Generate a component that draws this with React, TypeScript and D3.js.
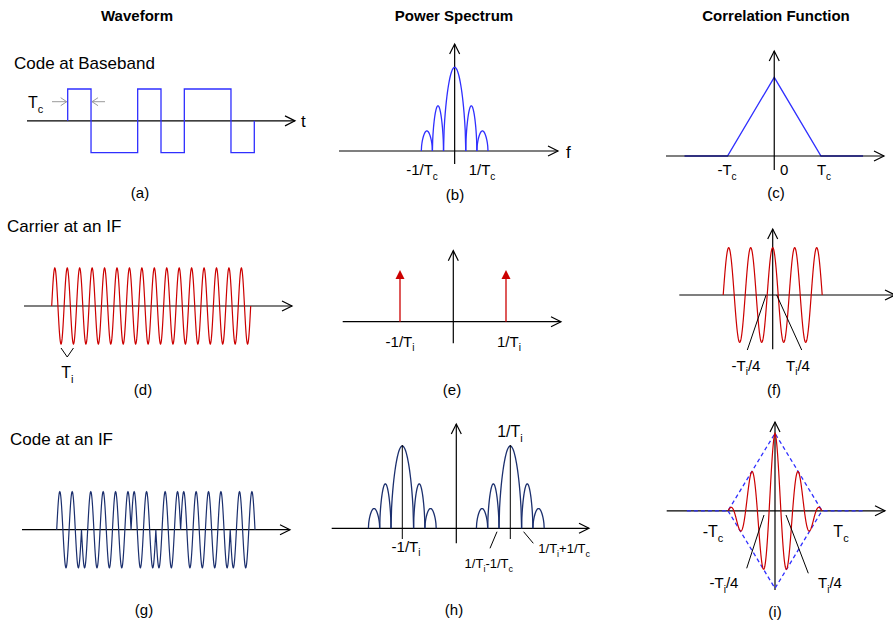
import React from "react";
import * as d3 from "d3";

const W = 893;
const H = 624;
const FONT = "'Liberation Sans', Arial, Helvetica, sans-serif";

// ---- content -------------------------------------------------------------
const columnTitles = ["Waveform", "Power Spectrum", "Correlation Function"];
const rowTitles = ["Code at Baseband", "Carrier at an IF", "Code at an IF"];
const panelTags = ["(a)", "(b)", "(c)", "(d)", "(e)", "(f)", "(g)", "(h)", "(i)"];

// spreading code chips (±1)
const codeChips = [1, -1, -1, 1, -1, 1, 1, -1];
// sinc² lobes: edges in units of 1/Tc and relative lobe heights
const lobeEdges = [-3, -2, -1, 1, 2, 3];
const lobeHeights = [0.24, 0.54, 1, 0.54, 0.24];
// code autocorrelation (lag in Tc units)
const corrTau = [-1.92, -1, 0, 1, 1.9];
const corrValue = [0, 0, 1, 0, 0];
// carrier
const carrierCycles = 16;
const cyclesPerChip = 2;
const lineFreqs = [-1, 1];
const lineHeights = [1, 1];
const carrierLagSpan = 2.25; // carrier correlation drawn over ±2.25 Ti
const ifOverChip = 4.78; // 1/Ti expressed in units of 1/Tc
const chipOverCarrier = 2; // Tc / Ti
// triangular envelope of the IF code correlation (lag in Ti units)
const envTau = [-3.75, -2, 0, 2, 3.75];
const envUpper = [0, 0, 1, 0, 0];
const envLowerTau = [-2, 0, 2];
const envLower = [0, -1, 0];

const BLUE = "#2f2fff";
const RED = "#cc0000";
const NAVY = "#1b2f6e";
const GRAY = "#9a9a9a";
const INK = "#000";

type Pt = [number, number];
const line = d3.line<Pt>();

function HArrow({ x1, x2, y }: { x1: number; x2: number; y: number }) {
  return (
    <g stroke={INK} strokeWidth={1.2} fill="none">
      <line x1={x1} y1={y} x2={x2} y2={y} />
      <polyline points={`${x2 - 10},${y - 5} ${x2},${y} ${x2 - 10},${y + 5}`} />
    </g>
  );
}

function VArrow({ x, y1, y2 }: { x: number; y1: number; y2: number }) {
  return (
    <g stroke={INK} strokeWidth={1.2} fill="none">
      <line x1={x} y1={y1} x2={x} y2={y2} />
      <polyline points={`${x - 5},${y2 + 10} ${x},${y2} ${x + 5},${y2 + 10}`} />
    </g>
  );
}

// text made of plain and subscript pieces: [text, isSub]
function Label({
  x,
  y,
  parts,
  size = 15,
  anchor = "middle",
}: {
  x: number;
  y: number;
  parts: [string, boolean][];
  size?: number;
  anchor?: string;
}) {
  const sub = Math.round(size * 0.68);
  const shift = size * 0.3;
  let prevSub = false;
  return (
    <text x={x} y={y} fontSize={size} textAnchor={anchor} fontFamily={FONT} fill={INK}>
      {parts.map(([t, isSub], i) => {
        let dy = 0;
        if (isSub && !prevSub) dy = shift;
        if (!isSub && prevSub) dy = -shift;
        prevSub = isSub;
        return (
          <tspan key={i} dy={dy} fontSize={isSub ? sub : size}>
            {t}
          </tspan>
        );
      })}
    </text>
  );
}

function lobePoints(
  a: number,
  b: number,
  h: number,
  xs: d3.ScaleLinear<number, number>,
  ys: d3.ScaleLinear<number, number>
): Pt[] {
  const n = 40;
  return d3.range(n + 1).map((k) => {
    const t = k / n;
    return [xs(a + (b - a) * t), ys(h * Math.pow(Math.sin(Math.PI * t), 0.55))] as Pt;
  });
}

function Lobes({
  center,
  xs,
  ys,
  color,
}: {
  center: number;
  xs: d3.ScaleLinear<number, number>;
  ys: d3.ScaleLinear<number, number>;
  color: string;
}) {
  return (
    <g fill="none" stroke={color} strokeWidth={1.3}>
      {lobeHeights.map((h, i) => (
        <path key={i} d={line(lobePoints(center + lobeEdges[i], center + lobeEdges[i + 1], h, xs, ys)) || ""} />
      ))}
    </g>
  );
}

export default function App() {
  // (a) baseband code
  const xa = d3.scaleLinear().domain([0, codeChips.length]).range([67.7, 254.3]);
  const ya = d3.scaleLinear().domain([-1, 1]).range([152.7, 89]);
  const codePts: Pt[] = [[xa(0), ya(0)]];
  codeChips.forEach((c, i) => {
    codePts.push([xa(i), ya(c)]);
    codePts.push([xa(i + 1), ya(c)]);
  });
  codePts.push([xa(codeChips.length), ya(0)]);

  // (b) baseband spectrum
  const xb = d3.scaleLinear().domain([-3, 3]).range([421.3, 488]);
  const yb = d3.scaleLinear().domain([0, 1]).range([151, 67.3]);

  // (c) code autocorrelation
  const xc = d3.scaleLinear().domain([-1, 1]).range([727.5, 821]);
  const yc = d3.scaleLinear().domain([0, 1]).range([156, 77.3]);
  const corrPts: Pt[] = corrTau.map((t, i) => [xc(t), yc(corrValue[i])]);

  // (d) carrier
  const xd = d3.scaleLinear().domain([0, carrierCycles]).range([51.7, 250.7]);
  const yd = d3.scaleLinear().domain([-1, 1]).range([344, 268]);
  const carrierPts: Pt[] = d3
    .range(0, carrierCycles * 48 + 1)
    .map((k) => {
      const c = k / 48;
      return [xd(c), yd(Math.sin(2 * Math.PI * c))] as Pt;
    });

  // (e) carrier spectrum
  const xe = d3.scaleLinear().domain([-1, 1]).range([400, 506]);
  const ye = d3.scaleLinear().domain([0, 1]).range([321.7, 270]);

  // (f) carrier autocorrelation
  const xf = d3.scaleLinear().domain([-carrierLagSpan, carrierLagSpan]).range([723.2, 822.2]);
  const yf = d3.scaleLinear().domain([-1, 1]).range([342.3, 247.7]);
  const carrCorrPts: Pt[] = d3.range(0, 451).map((k) => {
    const t = -carrierLagSpan + (k / 450) * 2 * carrierLagSpan;
    return [xf(t), yf(Math.cos(2 * Math.PI * t))] as Pt;
  });

  // (g) code on the IF carrier
  const xg = d3.scaleLinear().domain([0, codeChips.length]).range([56.7, 255]);
  const yg = d3.scaleLinear().domain([-1, 1]).range([567.7, 491.7]);
  const steps = codeChips.length * 96;
  const bpskPts: Pt[] = d3.range(0, steps + 1).map((k) => {
    const u = k / 96;
    const chip = codeChips[Math.min(codeChips.length - 1, Math.floor(u))];
    return [xg(u), yg(chip * Math.sin(2 * Math.PI * cyclesPerChip * u))] as Pt;
  });

  // (h) IF spectrum (frequency in 1/Tc units)
  const xh = d3.scaleLinear().domain([-ifOverChip, ifOverChip]).range([402.3, 510.3]);
  const yh = d3.scaleLinear().domain([0, 1]).range([528.3, 446]);

  // (i) IF code autocorrelation (lag in Ti units)
  const xi = d3.scaleLinear().domain([-chipOverCarrier, chipOverCarrier]).range([728, 822]);
  const yi = d3.scaleLinear().domain([-1, 1]).range([588.3, 433.3]);
  const ifCorrPts: Pt[] = d3.range(0, 801).map((k) => {
    const t = -chipOverCarrier + (k / 800) * 2 * chipOverCarrier;
    const tri = 1 - Math.abs(t) / chipOverCarrier;
    return [xi(t), yi(tri * Math.cos(2 * Math.PI * t))] as Pt;
  });
  const envUpperPts: Pt[] = envTau.map((t, i) => [xi(t), yi(envUpper[i])]);
  const envLowerPts: Pt[] = envLowerTau.map((t, i) => [xi(t), yi(envLower[i])]);

  const titleX = [137, 454, 776];

  return (
    <svg
      width={W}
      height={H}
      viewBox={`0 0 ${W} ${H}`}
      style={{ position: "absolute", left: 0, top: 0, background: "#fff" }}
      fontFamily={FONT}
    >
      <rect width={W} height={H} fill="#fff" />

      {columnTitles.map((t, i) => (
        <text key={t} x={titleX[i]} y={21} fontSize={15} fontWeight="bold" textAnchor="middle">
          {t}
        </text>
      ))}

      {/* row 1 */}
      <text x={14} y={69} fontSize={17}>
        {rowTitles[0]}
      </text>
      <HArrow x1={27} x2={295} y={ya(0)} />
      <path d={line(codePts) || ""} fill="none" stroke={BLUE} strokeWidth={1.3} />
      <text x={301} y={ya(0) + 6} fontSize={17}>
        t
      </text>
      <Label x={28} y={108} anchor="start" size={16} parts={[["T", false], ["c", true]]} />
      <g stroke={GRAY} strokeWidth={1} fill="none">
        <line x1={52} y1={101.7} x2={xa(0) - 1} y2={101.7} />
        <polyline points={`${xa(0) - 7},${97.7} ${xa(0) - 1},${101.7} ${xa(0) - 7},${105.7}`} />
        <line x1={105} y1={101.7} x2={xa(1) + 1} y2={101.7} />
        <polyline points={`${xa(1) + 7},${97.7} ${xa(1) + 1},${101.7} ${xa(1) + 7},${105.7}`} />
      </g>
      <text x={140} y={198} fontSize={15} textAnchor="middle">
        {panelTags[0]}
      </text>

      <HArrow x1={339} x2={558} y={yb(0)} />
      <VArrow x={xb(0)} y1={164} y2={44} />
      <Lobes center={0} xs={xb} ys={yb} color={BLUE} />
      <text x={566} y={158} fontSize={17}>
        f
      </text>
      <Label x={422} y={175} parts={[["-1/T", false], ["c", true]]} />
      <Label x={482} y={175} parts={[["1/T", false], ["c", true]]} />
      <text x={455} y={200} fontSize={15} textAnchor="middle">
        {panelTags[1]}
      </text>

      <path d={line(corrPts) || ""} fill="none" stroke={BLUE} strokeWidth={1.3} />
      <HArrow x1={666} x2={884} y={yc(0)} />
      <VArrow x={xc(0)} y1={170} y2={51} />
      <Label x={727} y={175} parts={[["-T", false], ["c", true]]} />
      <text x={780} y={175} fontSize={15}>
        0
      </text>
      <Label x={824} y={175} parts={[["T", false], ["c", true]]} />
      <text x={776} y={198} fontSize={15} textAnchor="middle">
        {panelTags[2]}
      </text>

      {/* row 2 */}
      <text x={7} y={232} fontSize={17}>
        {rowTitles[1]}
      </text>
      <HArrow x1={24} x2={292} y={yd(0)} />
      <path d={line(carrierPts) || ""} fill="none" stroke={RED} strokeWidth={1.2} />
      <polyline
        points={`${xd(0.75)},${yd(-1) + 4} ${(xd(0.75) + xd(1.75)) / 2},${yd(-1) + 13} ${xd(1.75)},${yd(-1) + 4}`}
        fill="none"
        stroke={INK}
        strokeWidth={1}
      />
      <Label x={xd(1.25)} y={378} size={16} parts={[["T", false], ["i", true]]} />
      <text x={143} y={395} fontSize={15} textAnchor="middle">
        {panelTags[3]}
      </text>

      <HArrow x1={342.7} x2={561} y={ye(0)} />
      <VArrow x={453.3} y1={343.3} y2={250.7} />
      {lineFreqs.map((f, i) => (
        <g key={f}>
          <line x1={xe(f)} y1={ye(0)} x2={xe(f)} y2={ye(lineHeights[i]) + 7} stroke={RED} strokeWidth={1.3} />
          <polygon
            points={`${xe(f)},${ye(lineHeights[i])} ${xe(f) - 4.5},${ye(lineHeights[i]) + 9} ${xe(f) + 4.5},${ye(lineHeights[i]) + 9}`}
            fill={RED}
          />
        </g>
      ))}
      <Label x={400} y={346.7} parts={[["-1/T", false], ["i", true]]} />
      <Label x={509} y={346.7} parts={[["1/T", false], ["i", true]]} />
      <text x={452} y={395} fontSize={15} textAnchor="middle">
        {panelTags[4]}
      </text>

      <HArrow x1={679.3} x2={895} y={yf(0)} />
      <VArrow x={xf(0)} y1={349.3} y2={229} />
      <path d={line(carrCorrPts) || ""} fill="none" stroke={RED} strokeWidth={1.2} />
      <g stroke={INK} strokeWidth={1}>
        <line x1={xf(-0.3)} y1={yf(0)} x2={747.3} y2={350} />
        <line x1={xf(0.18)} y1={yf(0)} x2={801.7} y2={350} />
      </g>
      <Label x={746} y={370.7} parts={[["-T", false], ["i", true], ["/4", false]]} />
      <Label x={798} y={370.7} parts={[["T", false], ["i", true], ["/4", false]]} />
      <text x={774} y={395} fontSize={15} textAnchor="middle">
        {panelTags[5]}
      </text>

      {/* row 3 */}
      <text x={10} y={445} fontSize={17}>
        {rowTitles[2]}
      </text>
      <HArrow x1={22} x2={290} y={yg(0)} />
      <path d={line(bpskPts) || ""} fill="none" stroke={NAVY} strokeWidth={1.2} />
      <text x={144} y={615} fontSize={15} textAnchor="middle">
        {panelTags[6]}
      </text>

      <HArrow x1={331.7} x2={589} y={yh(0)} />
      <VArrow x={xh(0)} y1={543.3} y2={424} />
      {[-ifOverChip, ifOverChip].map((c) => (
        <g key={c}>
          <Lobes center={c} xs={xh} ys={yh} color={NAVY} />
          <line x1={xh(c)} y1={yh(1) - 1} x2={xh(c)} y2={539} stroke={INK} strokeWidth={1} />
        </g>
      ))}
      <Label x={510} y={437} size={16} parts={[["1/T", false], ["i", true]]} />
      <Label x={406} y={551.7} parts={[["-1/T", false], ["i", true]]} />
      <g stroke={INK} strokeWidth={1}>
        <line x1={xh(ifOverChip - 1) - 2} y1={531.7} x2={490} y2={548.3} />
        <line x1={xh(ifOverChip + 1) + 2} y1={531.7} x2={533.3} y2={543.3} />
      </g>
      <Label
        x={488.8}
        y={568.3}
        size={13}
        parts={[["1/T", false], ["i", true], ["-1/T", false], ["c", true]]}
      />
      <Label
        x={538.3}
        y={553.3}
        size={13}
        anchor="start"
        parts={[["1/T", false], ["i", true], ["+1/T", false], ["c", true]]}
      />
      <text x={454} y={615} fontSize={15} textAnchor="middle">
        {panelTags[7]}
      </text>

      <HArrow x1={666.7} x2={885} y={yi(0)} />
      <VArrow x={xi(0)} y1={590} y2={422} />
      <g fill="none" stroke={BLUE} strokeWidth={1.3} strokeDasharray="4 3">
        <path d={line(envUpperPts) || ""} />
        <path d={line(envLowerPts) || ""} />
      </g>
      <path d={line(ifCorrPts) || ""} fill="none" stroke={RED} strokeWidth={1.2} />
      <g stroke={INK} strokeWidth={1}>
        <line x1={764} y1={515} x2={746.7} y2={568.3} />
        <line x1={786} y1={515} x2={808.3} y2={573.3} />
      </g>
      <Label x={713} y={536.7} size={16} parts={[["-T", false], ["c", true]]} />
      <Label x={841} y={536.7} size={16} parts={[["T", false], ["c", true]]} />
      <Label x={724} y={588.3} parts={[["-T", false], ["i", true], ["/4", false]]} />
      <Label x={830} y={588.3} parts={[["T", false], ["i", true], ["/4", false]]} />
      <text x={775} y={617} fontSize={15} textAnchor="middle">
        {panelTags[8]}
      </text>
    </svg>
  );
}
